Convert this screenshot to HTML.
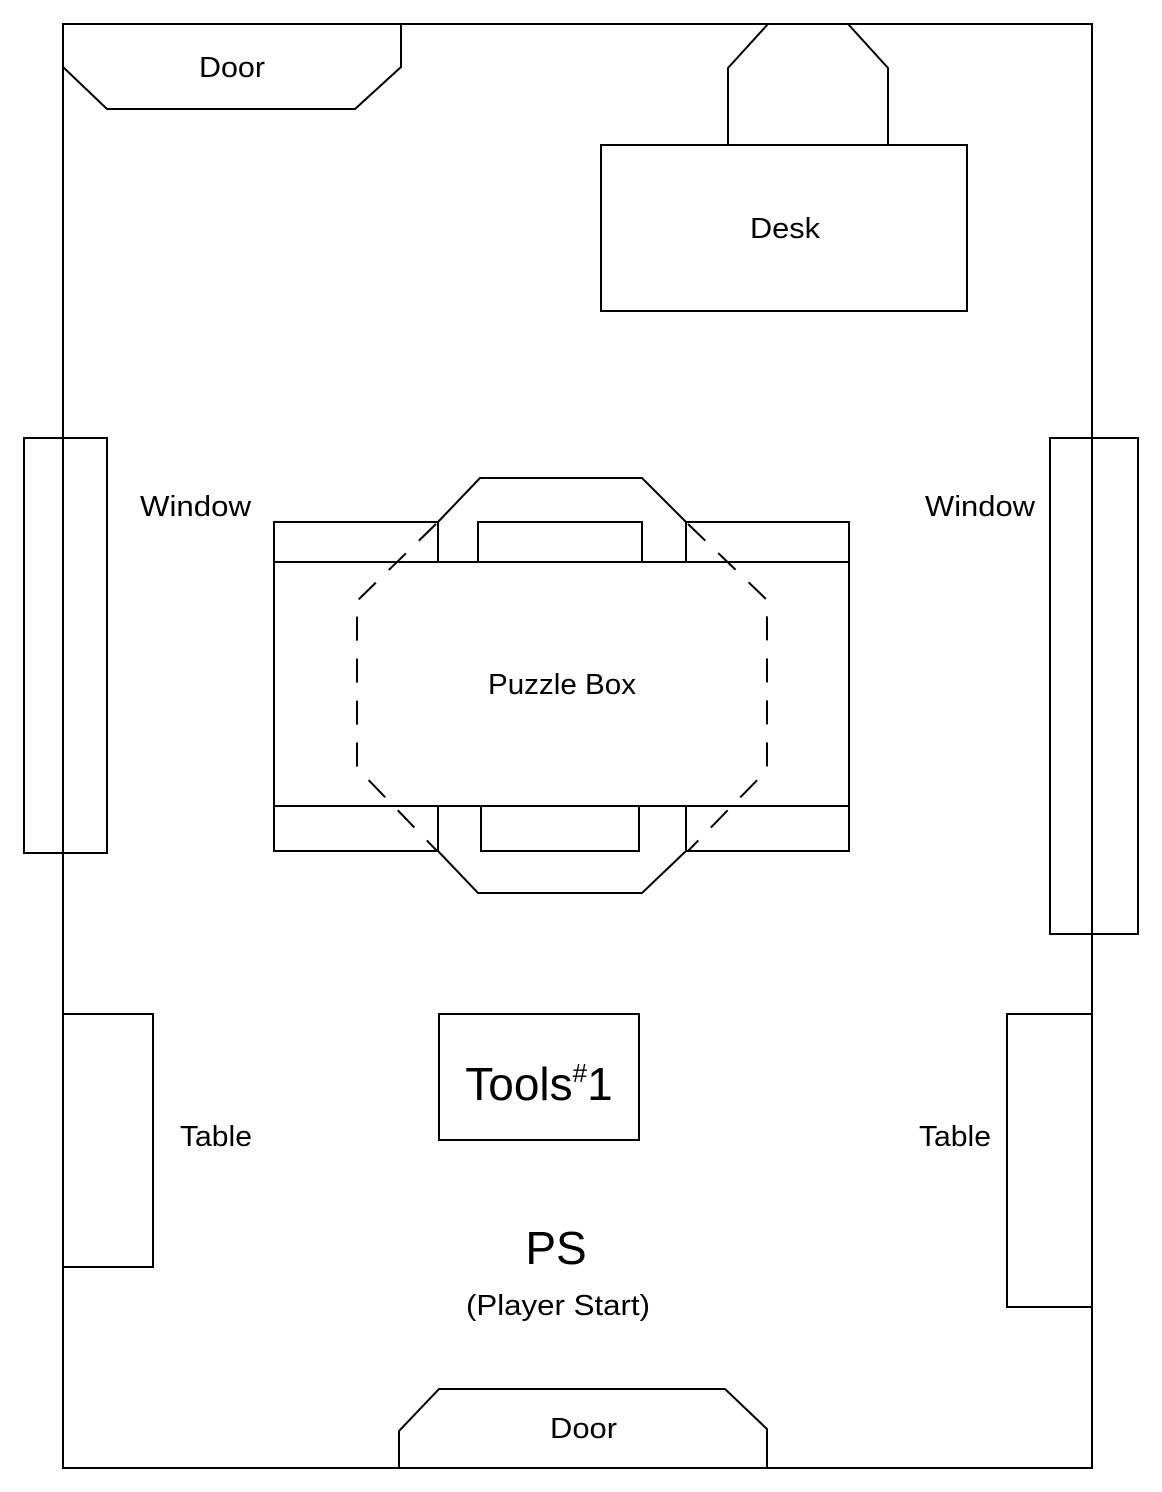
<!DOCTYPE html>
<html><head><meta charset="utf-8"><style>html,body{margin:0;padding:0;background:#fff}svg{display:block}text{font-family:"Liberation Sans",sans-serif;fill:#000}</style></head><body>
<svg width="1162" height="1492" viewBox="0 0 1162 1492" xmlns="http://www.w3.org/2000/svg">
<g fill="none" stroke="#000" stroke-width="2">
<rect x="63" y="24" width="1029" height="1444"/>
<polyline points="63,67 107,109 355,109 401,67 401,24"/>
<polyline points="728,144 728,68 768,24 848,24 888,68 888,144"/>
<rect x="601" y="145" width="366" height="166"/>
<rect x="24" y="438" width="83" height="415"/>
<rect x="1050" y="438" width="88" height="496"/>
<rect x="274" y="562" width="575" height="244"/>
<rect x="274" y="522" width="164" height="40"/>
<rect x="686" y="522" width="163" height="40"/>
<rect x="478" y="522" width="164" height="40"/>
<rect x="274" y="806" width="164" height="45"/>
<rect x="686" y="806" width="163" height="45"/>
<rect x="481" y="806" width="158" height="45"/>
<polyline points="438,522 480,478 642,478 686,522"/>
<polyline points="438,851 478,893 642,893 686,851"/>
<polyline stroke-dasharray="24,18" points="436,524 357,601 357,768 437,851"/>
<polyline stroke-dasharray="24,18" points="688,524 767,600 767,770 688,851"/>
<rect x="439" y="1014" width="200" height="126"/>
<rect x="63" y="1014" width="90" height="253"/>
<rect x="1007" y="1014" width="85" height="293"/>
<polyline points="399,1468 399,1431 439,1389 725,1389 767,1429 767,1468"/>
</g>
<g font-size="29">
<text x="199" y="77" textLength="66" lengthAdjust="spacingAndGlyphs">Door</text>
<text x="750" y="238" textLength="70" lengthAdjust="spacingAndGlyphs">Desk</text>
<text x="140" y="516" textLength="111" lengthAdjust="spacingAndGlyphs">Window</text>
<text x="925" y="516" textLength="110" lengthAdjust="spacingAndGlyphs">Window</text>
<text x="488" y="694" textLength="148" lengthAdjust="spacingAndGlyphs">Puzzle Box</text>
<text x="180" y="1146" textLength="72" lengthAdjust="spacingAndGlyphs">Table</text>
<text x="919" y="1146" textLength="72" lengthAdjust="spacingAndGlyphs">Table</text>
<text x="466" y="1315" textLength="184" lengthAdjust="spacingAndGlyphs">(Player Start)</text>
<text x="550" y="1438" textLength="67" lengthAdjust="spacingAndGlyphs">Door</text>
</g>
<text x="539" y="1100" text-anchor="middle" font-size="46">Tools<tspan font-size="26" dy="-18">#</tspan><tspan dy="18">1</tspan></text>
<text x="556" y="1264" text-anchor="middle" font-size="46">PS</text>
</svg>
</body></html>
